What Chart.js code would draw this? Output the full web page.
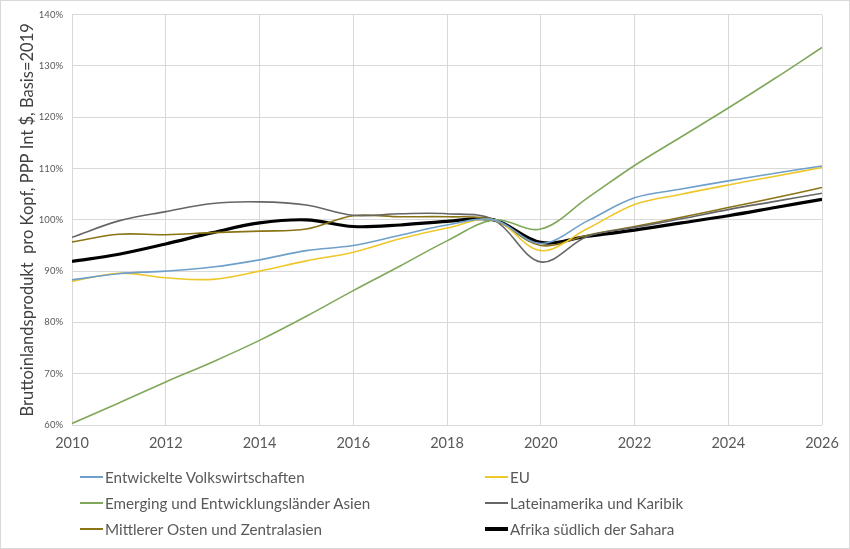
<!DOCTYPE html>
<html>
<head>
<meta charset="utf-8">
<script src="https://cdn.jsdelivr.net/npm/chart.js@4/dist/chart.umd.min.js"></script>
<style>
  html, body { margin: 0; padding: 0; background: #fff; }
  .frame {
    position: relative; width: 850px; height: 549px; box-sizing: border-box;
    border: 1px solid #d9d9d9; overflow: hidden; font-family: Lato, "Open Sans", sans-serif;
  }
  .frame canvas { position: absolute; left: -1px; top: -1px; }
  .legend { position: absolute; left: 0; top: 0; width: 850px; color: #595959; font-size: 15.2px; }
  .legend-item { position: absolute; display: flex; align-items: center; white-space: nowrap; }
  .legend-item i { display: inline-block; width: 23px; margin-right: 2px; }
</style>
</head>
<body>
<div class="frame">
  <canvas id="gdp" width="850" height="549"></canvas>
  <div class="legend" id="legend"></div>
</div>
<script>
// yearly values, % of 2019 level
const years = [2010, 2011, 2012, 2013, 2014, 2015, 2016, 2017, 2018, 2019, 2020, 2021, 2022, 2023, 2024, 2025, 2026];

const developed = [88.3, 89.5, 90.0, 90.8, 92.2, 94.0, 95.0, 97.0, 99.0, 100, 95.4, 99.8, 104.3, 106.0, 107.6, 109.1, 110.5];
const eu        = [88.0, 89.6, 88.7, 88.4, 90.0, 92.0, 93.7, 96.3, 98.4, 100, 94.0, 98.3, 103.0, 105.0, 106.8, 108.5, 110.2];
const asia      = [60.3, 64.3, 68.4, 72.3, 76.5, 81.2, 86.2, 91.0, 95.9, 100, 98.2, 104.3, 110.6, 116.2, 121.8, 127.6, 133.6];
const latam     = [96.6, 99.8, 101.6, 103.2, 103.5, 102.9, 100.9, 101.2, 101.2, 100, 91.8, 96.8, 98.5, 100.2, 102.0, 103.6, 105.2];
const mideast   = [95.7, 97.2, 97.1, 97.5, 97.8, 98.2, 100.8, 100.6, 100.6, 100, 95.0, 97.0, 98.7, 100.5, 102.4, 104.3, 106.3];
const africa    = [91.9, 93.3, 95.3, 97.5, 99.4, 100.0, 98.7, 99.0, 99.7, 100, 95.6, 96.8, 98.0, 99.4, 100.8, 102.4, 104.0];

const yTicks = [60, 70, 80, 90, 100, 110, 120, 130, 140];

const series = [
  { label: "Entwickelte Volkswirtschaften", data: developed, color: "#6f9fcb", width: 1.6 },
  { label: "EU", data: eu, color: "#eec72a", width: 1.6 },
  { label: "Emerging und Entwicklungsländer Asien", data: asia, color: "#7fa85a", width: 1.6 },
  { label: "Lateinamerika und Karibik", data: latam, color: "#666666", width: 1.6 },
  { label: "Mittlerer Osten und Zentralasien", data: mideast, color: "#8a7416", width: 1.6 },
  { label: "Afrika südlich der Sahara", data: africa, color: "#000000", width: 3.2 },
];

const grey = "#595959";
const font = "Lato, 'Open Sans', sans-serif";

const chart = new Chart(document.getElementById("gdp"), {
  type: "line",
  data: {
    datasets: series.map((s) => ({
      label: s.label,
      data: years.map((y, i) => ({ x: y, y: s.data[i] })),
      borderColor: s.color,
      backgroundColor: s.color,
      borderWidth: s.width,
      pointRadius: 0,
      tension: 0.35,
      fill: false,
    })),
  },
  options: {
    responsive: false,
    animation: false,
    layout: { padding: { left: 0, right: 28, top: 14, bottom: 94 } },
    plugins: { legend: { display: false }, tooltip: { enabled: false } },
    scales: {
      x: {
        type: "linear",
        min: 2010, max: 2026,
        afterFit: (scale) => { scale.height = 30; },
        grid: { color: "#d9d9d9", drawTicks: false },
        border: { display: false },
        ticks: { stepSize: 2, padding: 10, color: grey, font: { family: font, size: 14.5 }, callback: (v) => String(v) },
      },
      y: {
        min: 60, max: 140,
        afterFit: (scale) => { scale.width = 72; },
        afterBuildTicks: (scale) => { scale.ticks = yTicks.map((v) => ({ value: v })); },
        grid: { color: "#d9d9d9", drawTicks: false },
        border: { display: false },
        ticks: { padding: 9, color: grey, font: { family: font, size: 9.5 }, callback: (v) => v + "%" },
        title: {
          display: true,
          text: "Bruttoinlandsprodukt  pro Kopf, PPP Int $, Basis=2019",
          color: "#404040",
          font: { family: font, size: 16.5 },
          padding: { top: 18, bottom: 0 },
        },
      },
    },
  },
});

// legend in two fixed columns, like the original
const legend = document.getElementById("legend");
const cols = [79, 484];
const rows = [477, 503, 529];
chart.data.datasets.forEach((ds, i) => {
  const item = document.createElement("div");
  item.className = "legend-item";
  item.style.left = cols[i % 2] + "px";
  item.style.top = (rows[Math.floor(i / 2)] - 10) + "px";
  item.innerHTML = `<i style="height:${ds.borderWidth > 2 ? 4 : 2}px;background:${ds.borderColor}"></i>${ds.label}`;
  legend.appendChild(item);
});
</script>
</body>
</html>
